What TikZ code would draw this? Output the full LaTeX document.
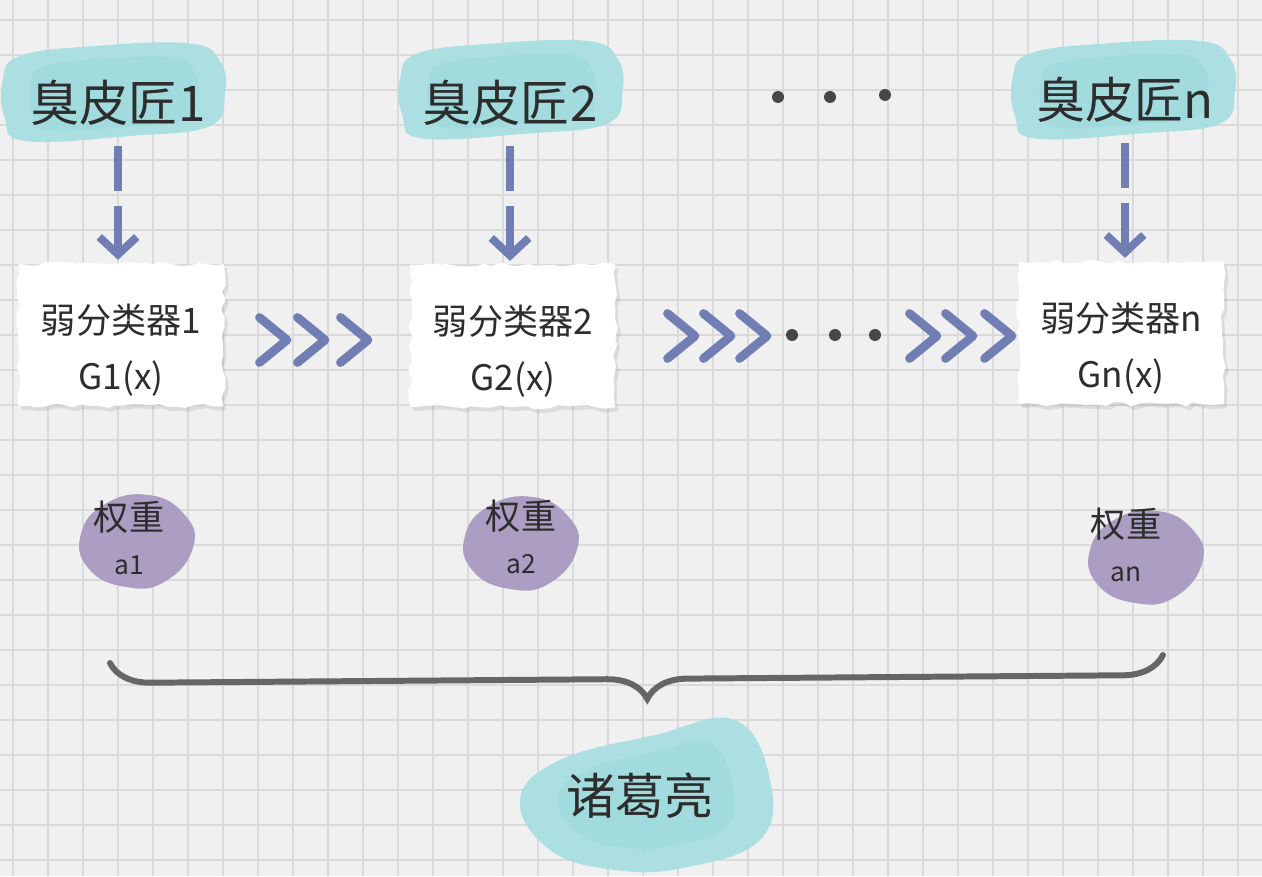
\documentclass[tikz,border=0pt]{standalone}
\usepackage{fontspec}
\newfontfamily\cjk{Noto Sans CJK SC}
\usepackage{xcolor}
\usetikzlibrary{arrows.meta,positioning,calc,decorations.pathreplacing,decorations.pathmorphing,shadows}

\definecolor{paper}{RGB}{240,240,240}
\definecolor{gridgray}{RGB}{218,218,218}
\definecolor{washcyan}{RGB}{168,223,226}
\definecolor{washcore}{RGB}{130,205,210}
\definecolor{washviolet}{RGB}{168,154,192}
\definecolor{crayon}{RGB}{112,126,180}
\definecolor{ink}{RGB}{45,45,45}
\definecolor{bracegray}{RGB}{102,102,102}

\tikzset{
  gridline/.style={gridgray, line width=0.8pt},
  wash/.style={fill=washcyan, fill opacity=0.95},
  washin/.style={fill=washcore, fill opacity=0.22},
  violet/.style={fill=washviolet, fill opacity=0.95},
  source/.style={font=\cjk\fontsize{28}{30}\selectfont, text=ink, inner xsep=0pt, inner ysep=0.4cm},
  learner/.style={fill=white, minimum width=4.1cm, minimum height=2.85cm, align=center,
    font=\cjk\fontsize{20}{27}\selectfont, text=ink,
    decorate, decoration={random steps, segment length=5pt, amplitude=1.3pt},
    drop shadow={shadow xshift=0.6mm, shadow yshift=-0.8mm, opacity=0.18}},
  weight/.style={align=center, font=\cjk\fontsize{20}{25}\selectfont, text=ink},
  feed/.style={crayon, line width=4.5pt, dash pattern=on 0.9cm off 0.3cm,
    -{Straight Barb[length=3.5mm, width=7.5mm]}, shorten >=2pt},
  chevron/.style={crayon, line width=5pt, line cap=round, line join=round},
  dot/.style={fill=black!72},
  bracestroke/.style={bracegray, line width=3.4pt, line cap=round,
    decorate, decoration={brace, mirror, amplitude=0.8cm, aspect=0.51}}
}

% brush washes, drawn round a centre
\newcommand{\topwash}[1]{%
  \fill[wash, shift={#1}] plot[smooth cycle, tension=0.7] coordinates
    {(-2.25,0.35) (-1.9,0.85) (-0.4,1.05) (1.5,1.1) (2.1,0.75) (2.2,0.1) (1.9,-0.55) (0.3,-0.75) (-1.8,-0.85) (-2.2,-0.4)};
  \fill[washin, shift={#1}, scale=0.75] plot[smooth cycle, tension=0.7] coordinates
    {(-2.25,0.35) (-1.9,0.85) (-0.4,1.05) (1.5,1.1) (2.1,0.75) (2.2,0.1) (1.9,-0.55) (0.3,-0.75) (-1.8,-0.85) (-2.2,-0.4)};}
\newcommand{\violetwash}[1]{%
  \fill[violet, shift={#1}] plot[smooth cycle, tension=0.8] coordinates
    {(0.25,0.92) (0.95,0.55) (1.15,-0.1) (0.6,-0.8) (-0.2,-0.92) (-0.95,-0.55) (-1.1,0.15) (-0.6,0.75)};}
\newcommand{\strutup}{\rule{0pt}{1.2cm}}

\begin{document}
\begin{tikzpicture}
    \useasboundingbox (0,0) rectangle (25.24,17.52);

    % Grid paper
    \fill[paper] (0,0) rectangle (25.24,17.52);
    \draw[gridline, step=0.7, shift={(0.26,0.32)}] (-0.26,-0.32) grid (24.98,17.2);

    % Washes behind the texts
    \topwash{(2.3,15.55)}
    \topwash{(10.25,15.6)}
    \topwash{(22.5,15.6)}
    \violetwash{(2.72,6.7)}
    \violetwash{(10.4,6.66)}
    \violetwash{(22.9,6.38)}
    \fill[wash, shift={(12.9,1.62)}] plot[smooth cycle, tension=0.7] coordinates
        {(1.8,1.5) (2.5,0.3) (2.3,-0.9) (0.8,-1.45) (-0.6,-1.5) (-1.9,-1.1) (-2.5,-0.1) (-1.7,0.7) (0.2,1.2)};
    \fill[washin, shift={(12.9,1.62)}, scale=0.7] plot[smooth cycle, tension=0.7] coordinates
        {(1.8,1.5) (2.5,0.3) (2.3,-0.9) (0.8,-1.45) (-0.6,-1.5) (-1.9,-1.1) (-2.5,-0.1) (-1.7,0.7) (0.2,1.2)};

    % Sources
    \node[source] (src1) at (2.36,15.46) {臭皮匠1};
    \node[source] (src2) at (10.2,15.46) {臭皮匠2};
    \node[source] (srcn) at (22.5,15.52) {臭皮匠n};
    \foreach \x/\y in {15.56/15.58, 16.6/15.58, 17.7/15.62}
        \fill[dot] (\x,\y) circle (0.12);

    % Weak learners
    \pgfmathsetseed{7}
    \node[learner] (box1) at (2.42,10.82) {\strutup{}弱分类器1\\[5pt]G1(x)};
    \node[learner] (box2) at (10.26,10.8) {\strutup{}弱分类器2\\[5pt]G2(x)};
    \node[learner] (boxn) at (22.42,10.86) {\strutup{}弱分类器n\\[5pt]Gn(x)};

    % Feeds
    \draw[feed] (src1.south) -- (src1.south |- box1.north);
    \draw[feed] (src2.south) -- (src2.south |- box2.north);
    \draw[feed] (srcn.south) -- (srcn.south |- boxn.north);

    % Chevrons between learners
    \foreach \x in {5.74,6.5,7.36}
        \draw[chevron] (\x-0.55,11.17) -- (\x,10.72) -- (\x-0.55,10.27);
    \foreach \x in {13.9,14.62,15.34,18.74,19.46,20.24}
        \draw[chevron] (\x-0.55,11.25) -- (\x,10.8) -- (\x-0.55,10.35);
    \foreach \x in {15.84,16.7,17.5}
        \fill[dot] (\x,10.82) circle (0.12);

    % Weights
    \node[weight] (w1) at (2.58,6.76) {权重\\{\fontsize{15}{25}\selectfont a1}};
    \node[weight] (w2) at (10.42,6.78) {权重\\{\fontsize{15}{25}\selectfont a2}};
    \node[weight] (wn) at (22.52,6.62) {权重\\{\fontsize{15}{25}\selectfont an}};

    % Brace and result
    \coordinate (bl) at (2.2,4.26);
    \coordinate (br) at (23.26,4.42);
    \draw[bracestroke] (bl) -- (br);
    \node[source, inner ysep=0pt] (zgl) at (12.8,1.6) {诸葛亮};

\end{tikzpicture}
\end{document}
